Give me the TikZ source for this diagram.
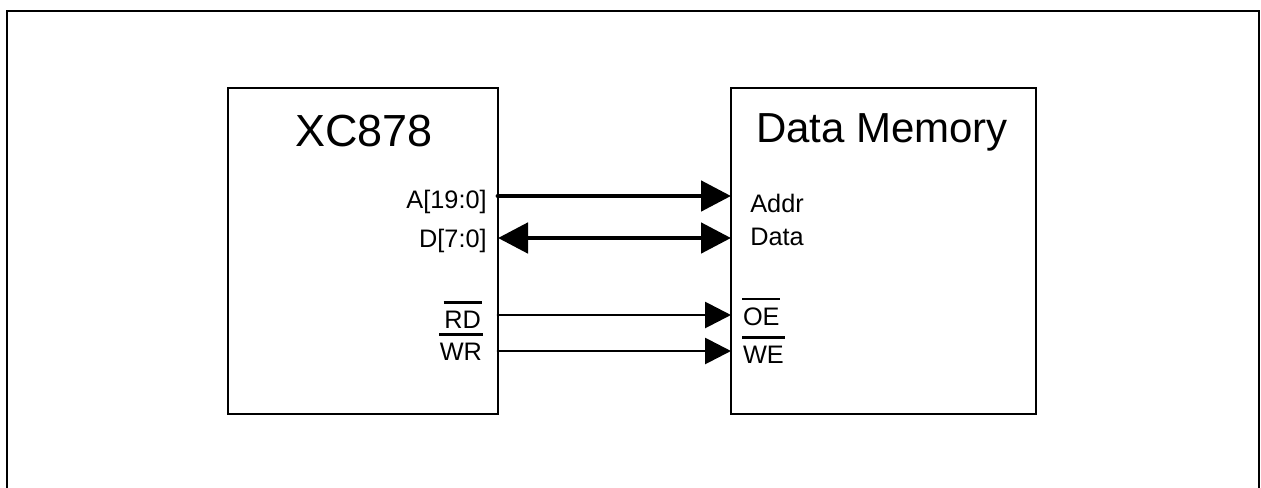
\documentclass[tikz,border=0pt]{standalone}
\usepackage{fontspec}
\setmainfont{Liberation Sans}
\usepackage{xcolor}
\usepackage{tikz, tkz-euclide}
\usetikzlibrary{calc,arrows.meta}
\newcommand\negsig[1]{\vbox{\hrule height 1.2pt\kern4pt\hbox{\kern0.4pt#1\kern0.4pt}}}

\begin{document}
\begin{tikzpicture}[x=0.02cm,y=-0.02cm,
    blk/.style={draw, line width=1.6pt},
    busarr/.style={line width=2.8pt, -{Triangle[length=0.6cm,width=0.6cm]}},
    busboth/.style={line width=2.8pt, {Triangle[length=0.6cm,width=0.6cm]}-{Triangle[length=0.6cm,width=0.6cm]}},
    sigarr/.style={line width=1.6pt, -{Triangle[length=0.52cm,width=0.52cm]}},
    lbl/.style={inner sep=0pt, font=\fontsize{14.4}{17}\selectfont},
    ttl/.style={inner sep=0pt, font=\fontsize{25.6}{30}\selectfont}]
      \useasboundingbox (0,0) rectangle (1261,487);%

      % frame, open at the bottom
      \tkzDefPoint(7,500){F_1} \tkzDefPoint(7,11){F_2}%
      \tkzDefPoint(1259,11){F_3} \tkzDefPoint(1259,500){F_4}%
      \draw[blk] (F_1) -- (F_2) -- (F_3) -- (F_4);%

      % the two blocks
      \tkzDefPoint(228,88){X_1} \tkzDefPoint(498,414){X_2}%
      \tkzDefPoint(731,88){M_1} \tkzDefPoint(1036,414){M_2}%
      \draw[blk] (X_1) rectangle (X_2);%
      \draw[blk] (M_1) rectangle (M_2);%

      \foreach \s/\y in {A/196, D/238, R/315, W/351} {%
          \tkzDefPoint(498,\y){\s_0} \tkzDefPoint(731,\y){\s_1} }%

      \tkzDrawSegments[busarr](A_0,A_1)%
      \tkzDrawSegments[busboth](D_0,D_1)%
      \tkzDrawSegments[sigarr](R_0,R_1 W_0,W_1)%

      \node[ttl, anchor=base] (xc) at (364,146) {XC878};%
      \node[ttl, anchor=base, font=\fontsize{23.9}{28}\selectfont] (dm) at (882,142) {Data Memory};%

      \node[lbl, anchor=base east] (a-lbl) at (487,208) {A[19:0]};%
      \node[lbl, anchor=base east] (d-lbl) at (487,247) {D[7:0]};%
      \node[lbl, anchor=base east] (rd-lbl) at (482,328) {\negsig{RD}};%
      \node[lbl, anchor=base east] (wr-lbl) at (483,360) {\negsig{WR}};%
      \node[lbl, anchor=base west] (addr-lbl) at (750,212) {Addr};%
      \node[lbl, anchor=base west] (data-lbl) at (750,245) {Data};%
      \node[lbl, anchor=base west] (oe-lbl) at (742,325) {\negsig{OE}};%
      \node[lbl, anchor=base west] (we-lbl) at (742,363) {\negsig{WE}};%
    \end{tikzpicture}
\end{document}
